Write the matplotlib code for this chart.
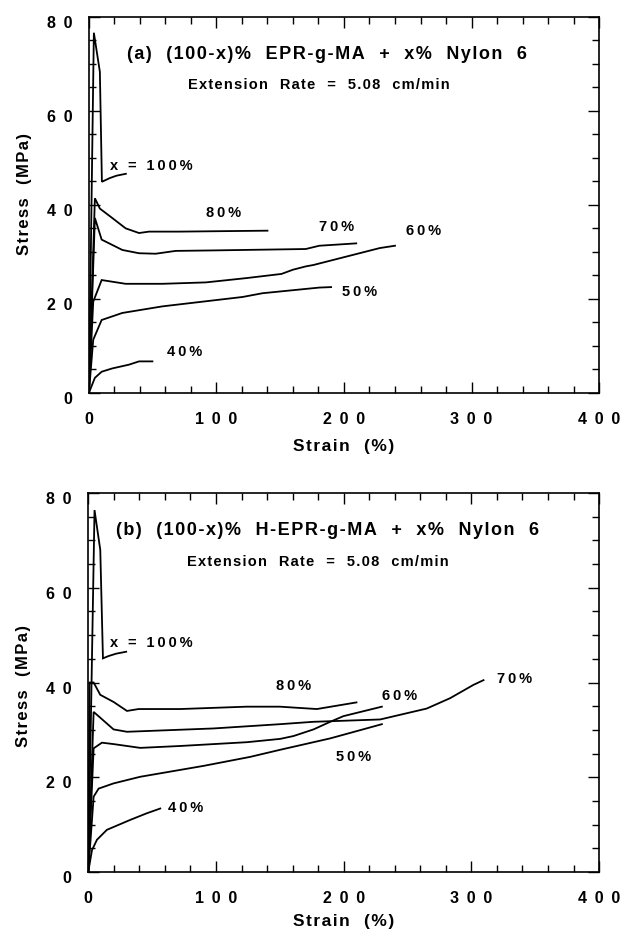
import matplotlib

matplotlib.use("Agg")
import matplotlib.pyplot as plt
from matplotlib.ticker import FixedLocator, MultipleLocator
from matplotlib.transforms import ScaledTranslation

plt.rcParams["font.family"] = ["Liberation Sans", "DejaVu Sans"]
plt.rcParams["font.weight"] = "bold"

# ---- panel (a): EPR-g-MA / Nylon 6 ----
A_100_STRAIN = [0, 3.9, 8.6, 10.2, 16.5, 21.7, 29]
A_100_STRESS = [0, 76.6, 68.3, 44.9, 45.7, 46.2, 46.6]
A_80_STRAIN = [0, 4.7, 8.6, 18.3, 28.8, 39.3, 47.1, 70.7, 140]
A_80_STRESS = [0, 41.4, 39.2, 37.2, 35.0, 34.0, 34.3, 34.3, 34.5]
A_70_STRAIN = [0, 4.7, 10.0, 26.2, 39.3, 52.4, 68, 96.9, 170, 180.7, 209.6]
A_70_STRESS = [0, 37.2, 32.6, 30.4, 29.7, 29.6, 30.2, 30.3, 30.6, 31.3, 31.8]
A_60_STRAIN = [0, 3.4, 10.0, 28.8, 57.6, 91.7, 123, 151, 160, 170, 176, 228, 240]
A_60_STRESS = [0, 19.4, 24.0, 23.2, 23.2, 23.5, 24.4, 25.3, 26.2, 26.9, 27.2, 30.8, 31.3]
A_50_STRAIN = [0, 3.4, 10.0, 26.2, 57.6, 120.5, 136.2, 180.7, 189.9]
A_50_STRESS = [0, 11.3, 15.5, 17.0, 18.4, 20.4, 21.2, 22.4, 22.5]
A_40_STRAIN = [0, 4.7, 10.0, 18.3, 31.4, 39.3, 49.8]
A_40_STRESS = [0, 3.2, 4.5, 5.2, 6.0, 6.7, 6.7]

# ---- panel (b): H-EPR-g-MA / Nylon 6 ----
B_100_STRAIN = [0, 4.9, 9.4, 11.5, 16, 22, 29.7]
B_100_STRESS = [0, 76.4, 68.0, 45.1, 45.6, 46.1, 46.5]
B_80_STRAIN = [0, 1.0, 4.2, 9.4, 19.8, 30.3, 39.4, 72, 124, 150, 179, 210]
B_80_STRESS = [0, 40.0, 40.0, 37.4, 35.9, 34.0, 34.4, 34.4, 34.9, 34.9, 34.4, 35.8]
B_70_STRAIN = [0, 4.2, 19.8, 30.3, 98, 150, 176, 228.6, 265, 283.4, 301.6, 309.5]
B_70_STRESS = [0, 33.8, 30.1, 29.6, 30.3, 31.2, 31.7, 32.2, 34.5, 36.7, 39.5, 40.5]
B_60_STRAIN = [0, 4.2, 10.7, 19.8, 40.7, 72, 124.2, 150.3, 160.7, 176.4, 189.4, 199.8, 229.9]
B_60_STRESS = [0, 26.1, 27.3, 27.0, 26.2, 26.6, 27.4, 28.1, 28.7, 30.1, 31.7, 32.9, 34.9]
B_50_STRAIN = [0, 4.2, 8.1, 19.8, 40.7, 90.3, 126.8, 150.3, 189.4, 229.9]
B_50_STRESS = [0, 15.9, 17.6, 18.7, 20.1, 22.4, 24.3, 25.8, 28.2, 31.2]
B_40_STRAIN = [0, 2.9, 6.8, 14.6, 32.9, 45.9, 56.4]
B_40_STRESS = [0, 4.6, 6.8, 8.9, 11.0, 12.4, 13.4]

X_TICKS = [0, 100, 200, 300, 400]
X_TICK_LABELS = ["0", "100", "200", "300", "400"]
Y_TICKS = [0, 20, 40, 60, 80]
Y_TICK_LABELS = ["0", "20", "40", "60", "80"]

PANELS = [
    {
        "rect": [0.142, 0.578, 0.815, 0.404],
        "title": "(a)  (100-x)%  EPR-g-MA  +  x%  Nylon  6",
        "curves": [
            (A_100_STRAIN, A_100_STRESS), (A_80_STRAIN, A_80_STRESS),
            (A_70_STRAIN, A_70_STRESS), (A_60_STRAIN, A_60_STRESS),
            (A_50_STRAIN, A_50_STRESS), (A_40_STRAIN, A_40_STRESS),
        ],
        # (text, x, y, ha)
        "labels": [
            ("x = 100%", 16.5, 48.3, "left"),
            ("80%", 105.5, 38.3, "center"),
            ("70%", 194, 35.2, "center"),
            ("60%", 262, 34.5, "center"),
            ("50%", 212, 21.4, "center"),
            ("40%", 75, 8.6, "center"),
        ],
        "xlabel_pad": 8.5,
        "ylabel_y": 0.53,
    },
    {
        "rect": [0.141, 0.0634, 0.816, 0.407],
        "title": "(b)  (100-x)%  H-EPR-g-MA  +  x%  Nylon  6",
        "curves": [
            (B_100_STRAIN, B_100_STRESS), (B_80_STRAIN, B_80_STRESS),
            (B_70_STRAIN, B_70_STRESS), (B_60_STRAIN, B_60_STRESS),
            (B_50_STRAIN, B_50_STRESS), (B_40_STRAIN, B_40_STRESS),
        ],
        "labels": [
            ("x = 100%", 17.2, 48.4, "left"),
            ("80%", 160.9, 39.3, "center"),
            ("60%", 243.4, 37.2, "center"),
            ("70%", 333.5, 40.7, "center"),
            ("50%", 207.8, 24.2, "center"),
            ("40%", 75.9, 13.6, "center"),
        ],
        "xlabel_pad": 5.5,
        "ylabel_y": 0.49,
    },
]

THIN = "\u2009"


def tracked(text, gap=THIN):
    """Letter-spaced text: the printed figure uses a wide, loosely set face."""
    return gap.join(text)


fig = plt.figure(figsize=(6.26, 9.31), dpi=100)

for panel in PANELS:
    ax = fig.add_axes(panel["rect"])
    for strain, stress in panel["curves"]:
        ax.plot(strain, stress, color="black", linewidth=1.3, solid_joinstyle="miter")
    for text, x, y, ha in panel["labels"]:
        ax.text(x, y, tracked(text), ha=ha, va="center", fontsize=10.5, fontweight="bold")
    ax.text(187, 72.0, tracked(panel["title"], "\u200a"), ha="center", va="center",
            fontsize=13, fontweight="bold")
    ax.text(180, 65.4, tracked("Extension  Rate  =  5.08  cm/min", "\u200a"),
            ha="center", va="center", fontsize=10.5, fontweight="bold")

    ax.set_xlim(0, 400)
    ax.set_ylim(0, 80)
    ax.xaxis.set_major_locator(FixedLocator(X_TICKS))
    ax.yaxis.set_major_locator(FixedLocator(Y_TICKS))
    ax.set_xticklabels([tracked(s, " " + THIN) for s in X_TICK_LABELS])
    ax.set_yticklabels([tracked(s, " " + THIN) for s in Y_TICK_LABELS])
    ax.xaxis.set_minor_locator(MultipleLocator(20))
    ax.yaxis.set_minor_locator(MultipleLocator(5))
    ax.tick_params(which="both", direction="in", top=True, right=True, width=1.0)
    ax.tick_params(which="major", length=8, labelsize=11.5)
    ax.tick_params(which="minor", length=5)
    ax.tick_params(axis="y", pad=12)
    ax.tick_params(axis="x", pad=14)
    # the printed y labels sit a few points below their tick
    for lab in ax.get_yticklabels():
        lab.set_transform(lab.get_transform() + ScaledTranslation(0, -0.05, fig.dpi_scale_trans))
    for spine in ax.spines.values():
        spine.set_linewidth(1.2)

    ax.set_xlabel(tracked("Strain  (%)", "\u200a"), fontsize=12.5, fontweight="bold",
                  labelpad=panel["xlabel_pad"])
    ax.set_ylabel(tracked("Stress  (MPa)", "\u200a"), fontsize=12, fontweight="bold",
                  labelpad=10)
    ax.yaxis.set_label_coords(-0.112, panel["ylabel_y"])

fig.savefig("out.png", dpi=100)
